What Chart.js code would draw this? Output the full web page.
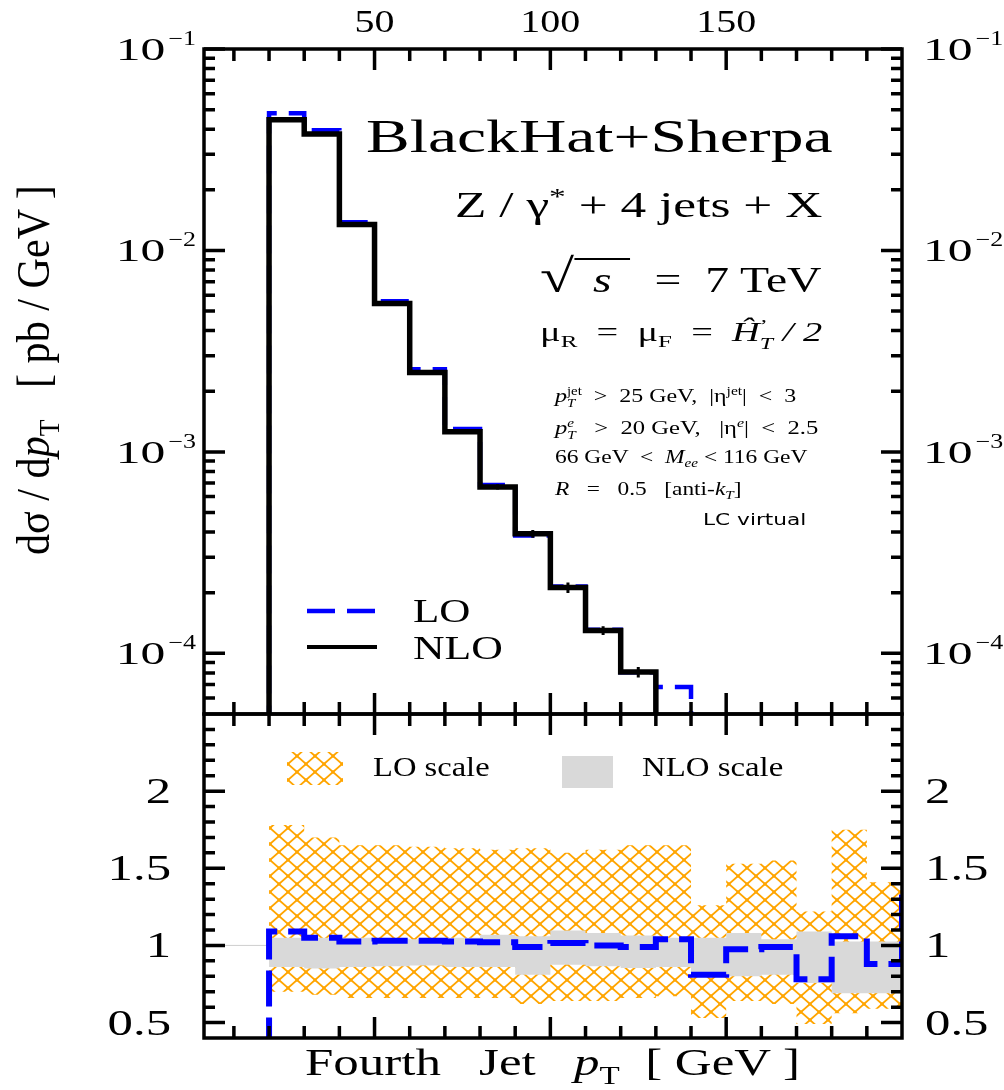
<!DOCTYPE html>
<html>
<head>
<meta charset="utf-8">
<title>Fourth jet pT - BlackHat+Sherpa</title>
<script src="https://cdn.jsdelivr.net/npm/chart.js@4.4.1/dist/chart.umd.min.js"></script>
<style>
  html, body { margin: 0; padding: 0; background: #fff; }
  #wrap { position: relative; width: 1004px; height: 1090px; overflow: hidden; }
  #wrap canvas { position: absolute; left: 0; }
  #topChart { top: 0; }
  #ratioChart { top: 700px; }
  .lbl { position: absolute; white-space: nowrap; line-height: 1; color: #000;
         font-family: "Liberation Serif", "Times New Roman", serif; transform-origin: 0 0; }
  .sp { position: relative; top: -0.55em; font-size: 0.65em; line-height: 0; }
  .sb { position: relative; top: 0.35em; font-size: 0.65em; line-height: 0; }
  .stk { display: inline-flex; flex-direction: column; font-size: 0.62em; line-height: 1.05;
         position: relative; top: -0.6em; vertical-align: baseline; }
</style>
</head>
<body>
<div id="wrap">
  <canvas id="topChart" width="1004" height="731"></canvas>
  <canvas id="ratioChart" width="1004" height="390"></canvas>
</div>
<script>
// bin edges in GeV (last edge only closes the final step)
const binEdges = [20, 30, 40, 50, 60, 70, 80, 90, 100, 110, 120, 130, 140, 150, 160, 170, 180, 190, 200, 210];

// upper panel: d sigma / d pT [pb/GeV], one value per bin from 20 GeV
const nloXsec = [0.0446, 0.0378, 0.01345, 0.00545, 0.00248, 0.00126, 0.00067, 0.000392, 0.000212, 0.000130, 0.0000807];
const nloRelErr = [0.008, 0.008, 0.01, 0.012, 0.015, 0.02, 0.03, 0.045, 0.06, 0.05, 0.06];
const loXsec = [0.048, 0.0395, 0.0138, 0.0056, 0.00257, 0.0013, 0.000685, 0.000385, 0.000215, 0.000131, 0.0000805, 0.000068];

// lower panel: ratios to NLO
const loRatio    = [1.09, 1.05, 1.026, 1.03, 1.03, 1.026, 1.02, 0.99, 1.015, 1.0, 0.99, 1.04, 0.81, 0.975, 0.99, 0.78, 1.06, 0.88, 1.38];
const loScaleHi  = [1.78, 1.70, 1.65, 1.65, 1.64, 1.63, 1.62, 1.63, 1.60, 1.62, 1.65, 1.65, 1.26, 1.53, 1.55, 1.22, 1.75, 1.41];
const loScaleLo  = [0.70, 0.68, 0.66, 0.66, 0.66, 0.66, 0.66, 0.62, 0.64, 0.64, 0.66, 0.67, 0.53, 0.64, 0.62, 0.49, 0.56, 0.59];
const nloScaleHi = [1.05, 1.05, 1.05, 1.043, 1.04, 1.05, 1.07, 1.06, 1.097, 1.08, 1.064, 1.05, 1.05, 1.08, 1.04, 1.09, 1.025, 1.025];
const nloScaleLo = [0.86, 0.85, 0.86, 0.865, 0.87, 0.86, 0.86, 0.81, 0.875, 0.865, 0.853, 0.86, 0.80, 0.80, 0.81, 0.757, 0.69, 0.69];

// tick labels
const xTickVals = [50, 100, 150];
const xTickText = ['50', '100', '150'];
const logTickVals = [1e-1, 1e-2, 1e-3, 1e-4];
const logTickExp = ['\u22121', '\u22122', '\u22123', '\u22124'];
const ratioTickVals = [2, 1.5, 1, 0.5];
const ratioTickText = ['2', '1.5', '1', '0.5'];

const SERIF = '"Liberation Serif", "Times New Roman", serif';
const BLUE = '#0000ff';

// minor ticks
const xMinor = [];
for (let v = 10; v < 200; v += 10) if (!xTickVals.includes(v)) xMinor.push(v);
const logMinor = [];
[1e-5, 1e-4, 1e-3, 1e-2].forEach(d => { for (let k = 2; k <= 9; k++) { const v = k * d; if (v > 5e-5 && v < 0.1) logMinor.push(v); } });
const ratioMinor = [];
for (let i = 5; i <= 24; i++) { const v = i / 10; if (i % 5 !== 0) ratioMinor.push(v); }

function histPoints(vals, floor) {
  const pts = [{ x: binEdges[0], y: floor }];
  vals.forEach((v, i) => pts.push({ x: binEdges[i], y: v }));
  pts.push({ x: binEdges[vals.length], y: floor });
  return pts;
}
function bandPoints(vals) {
  const pts = vals.map((v, i) => ({ x: binEdges[i], y: v }));
  pts.push({ x: binEdges[vals.length], y: vals[vals.length - 1] });
  return pts;
}
function errPoints() {
  const pts = [];
  nloXsec.forEach((v, i) => {
    const c = (binEdges[i] + binEdges[i + 1]) / 2;
    pts.push({ x: c, y: v * (1 - nloRelErr[i]) }, { x: c, y: v * (1 + nloRelErr[i]) }, { x: c, y: null });
  });
  return pts;
}

function drawFrame(ch, yMajor, yMinor) {
  const { ctx, chartArea: a } = ch;
  const xs = ch.scales.x, ys = ch.scales.y;
  ctx.save();
  ctx.strokeStyle = '#000';
  ctx.lineWidth = 3.5;
  ctx.lineCap = 'butt';
  ctx.beginPath();
  const yt = (v, len) => { const p = ys.getPixelForValue(v); ctx.moveTo(a.left, p); ctx.lineTo(a.left + len, p); ctx.moveTo(a.right, p); ctx.lineTo(a.right - len, p); };
  const xt = (v, len) => { const p = xs.getPixelForValue(v); ctx.moveTo(p, a.top); ctx.lineTo(p, a.top + len); ctx.moveTo(p, a.bottom); ctx.lineTo(p, a.bottom - len); };
  yMajor.forEach(v => yt(v, 21));
  yMinor.forEach(v => yt(v, 11));
  xTickVals.forEach(v => xt(v, 21));
  xMinor.forEach(v => xt(v, 12));
  ctx.stroke();
  ctx.strokeRect(a.left, a.top, a.width, a.height);
  ctx.restore();
}

function putText(ctx, txt, x, y, size, sx, align) {
  ctx.save();
  ctx.font = size + 'px ' + SERIF;
  const w = ctx.measureText(txt).width * sx;
  const x0 = align === 'right' ? x - w : (align === 'center' ? x - w / 2 : x);
  ctx.translate(x0, y);
  ctx.scale(sx, 1);
  ctx.fillStyle = '#000';
  ctx.textAlign = 'left';
  ctx.textBaseline = 'alphabetic';
  ctx.fillText(txt, 0, 0);
  ctx.restore();
  return w;
}
function measure(ctx, txt, size, sx) {
  ctx.save();
  ctx.font = size + 'px ' + SERIF;
  const w = ctx.measureText(txt).width * sx;
  ctx.restore();
  return w;
}
function putPower(ctx, exp, x, y, align) {
  const wb = measure(ctx, '10', 32, 1.55);
  const we = measure(ctx, exp, 20, 1.3);
  const x0 = align === 'right' ? x - (wb + 3 + we) : x;
  putText(ctx, '10', x0, y + 11, 32, 1.55, 'left');
  putText(ctx, exp, x0 + wb + 3, y - 4, 20, 1.3, 'left');
}

const topDeco = {
  id: 'topDeco',
  afterDatasetsDraw(ch) {
    drawFrame(ch, logTickVals, logMinor);
    const ctx = ch.ctx;
    const nlo = ch.data.datasets[1], lo = ch.data.datasets[2];
    ctx.save();
    ctx.lineCap = 'butt';
    ctx.strokeStyle = lo.borderColor;
    ctx.lineWidth = lo.borderWidth;
    ctx.setLineDash(lo.borderDash);
    ctx.beginPath(); ctx.moveTo(307, 611); ctx.lineTo(375, 611); ctx.stroke();
    ctx.setLineDash([]);
    ctx.strokeStyle = nlo.borderColor;
    ctx.lineWidth = 4;
    ctx.beginPath(); ctx.moveTo(307, 647); ctx.lineTo(377, 647); ctx.stroke();
    ctx.restore();
  },
  afterDraw(ch) {
    const ctx = ch.ctx, a = ch.chartArea;
    xTickVals.forEach((v, i) => putText(ctx, xTickText[i], ch.scales.x.getPixelForValue(v), 32, 32, 1.25, 'center'));
    logTickVals.forEach((v, i) => {
      const p = ch.scales.y.getPixelForValue(v);
      putPower(ctx, logTickExp[i], a.left - 8, p, 'right');
      putPower(ctx, logTickExp[i], a.right + 21, p, 'left');
    });
  }
};

const ratioCanvas = document.getElementById('ratioChart');
const ratioCtx = ratioCanvas.getContext('2d');
const tile = document.createElement('canvas');
tile.width = 18; tile.height = 16;
(function () {
  const g = tile.getContext('2d');
  g.strokeStyle = '#ffa500';
  g.lineWidth = 1.8;
  g.beginPath();
  g.moveTo(0, 0); g.lineTo(18, 16);
  g.moveTo(18, 0); g.lineTo(0, 16);
  g.stroke();
  g.fillStyle = '#ffa500';
  g.fillRect(7.5, 6.5, 3, 3);
  g.fillRect(0, 0, 1.5, 1.5); g.fillRect(16.5, 0, 1.5, 1.5);
  g.fillRect(0, 14.5, 1.5, 1.5); g.fillRect(16.5, 14.5, 1.5, 1.5);
})();
const hatch = ratioCtx.createPattern(tile, 'repeat');
const BAND_GRAY = '#d9d9d9';

const ratioDeco = {
  id: 'ratioDeco',
  afterDatasetsDraw(ch) {
    drawFrame(ch, ratioTickVals, ratioMinor);
    const ctx = ch.ctx;
    ctx.save();
    ctx.fillStyle = hatch;
    ctx.fillRect(287, 52, 56, 33);
    ctx.fillStyle = BAND_GRAY;
    ctx.fillRect(562, 56, 51, 32);
    ctx.restore();
  },
  afterDraw(ch) {
    const ctx = ch.ctx, a = ch.chartArea;
    ratioTickVals.forEach((v, i) => {
      const p = ch.scales.y.getPixelForValue(v);
      putText(ctx, ratioTickText[i], a.left - 33, p + 12, 35, 1.45, 'right');
      putText(ctx, ratioTickText[i], a.right + 23, p + 12, 35, 1.45, 'left');
    });
  }
};

const commonOpts = {
  responsive: false,
  animation: false,
  devicePixelRatio: 1,
  plugins: { legend: { display: false }, tooltip: { enabled: false } },
  elements: { point: { radius: 0 }, line: { tension: 0, borderJoinStyle: 'miter', borderCapStyle: 'butt' } }
};

new Chart(document.getElementById('topChart'), {
  type: 'line',
  data: {
    datasets: [
      { label: 'NLO error', data: errPoints(), borderColor: '#000', borderWidth: 3, spanGaps: false, order: -1 },
      { label: 'NLO', data: histPoints(nloXsec, 4e-5), stepped: true, borderColor: '#000', borderWidth: 5.5, order: 0 },
      { label: 'LO', data: histPoints(loXsec, 4e-5), stepped: true, borderColor: BLUE, borderWidth: 4.5, borderDash: [28, 12], order: 1 }
    ]
  },
  options: Object.assign({}, commonOpts, {
    layout: { padding: { left: 204, right: 102, top: 49, bottom: 17 } },
    scales: {
      x: { type: 'linear', min: 1.5, max: 200, display: false },
      y: { type: 'logarithmic', min: 5e-5, max: 0.1, display: false }
    }
  }),
  plugins: [topDeco]
});

new Chart(ratioCanvas, {
  type: 'line',
  data: {
    datasets: [
      { label: 'LO / NLO', data: histPoints(loRatio, 0.3), stepped: true, borderColor: BLUE, borderWidth: 6, borderDash: [36, 11], order: 0 },
      { label: 'NLO scale', data: bandPoints(nloScaleHi), stepped: true, borderWidth: 0, borderColor: 'rgba(0,0,0,0)', backgroundColor: BAND_GRAY, fill: '+1', order: 1 },
      { label: 'NLO scale low', data: bandPoints(nloScaleLo), stepped: true, borderWidth: 0, borderColor: 'rgba(0,0,0,0)', fill: false, order: 1 },
      { label: 'LO scale', data: bandPoints(loScaleHi), stepped: true, borderWidth: 0, borderColor: 'rgba(0,0,0,0)', backgroundColor: hatch, fill: '+1', order: 2 },
      { label: 'LO scale low', data: bandPoints(loScaleLo), stepped: true, borderWidth: 0, borderColor: 'rgba(0,0,0,0)', fill: false, order: 2 },
      { label: 'unity', data: [{ x: 1.5, y: 1 }, { x: 200, y: 1 }], borderColor: '#cfcfcf', borderWidth: 1, order: 3 }
    ]
  },
  options: Object.assign({}, commonOpts, {
    layout: { padding: { left: 204, right: 102, top: 14, bottom: 52 } },
    scales: {
      x: { type: 'linear', min: 1.5, max: 200, display: false },
      y: { type: 'linear', min: 0.4, max: 2.5, display: false }
    }
  }),
  plugins: [ratioDeco]
});

// text annotations (position = left x, baseline y, size, target width)
const notes = [
  { html: 'BlackHat+Sherpa', x: 366, base: 153, size: 46, w: 466 },
  { html: 'Z / \u03b3<span class="sp">*</span> + 4 jets + X', x: 455, base: 217, size: 36, w: 367 },
  { html: '<span style="font-size:1.3em;line-height:0">\u221a</span><span style="border-top:2px solid #000;padding:0 0.4em"><i>s</i></span> &nbsp;= &nbsp;7 TeV', x: 540, base: 292, size: 36, w: 282 },
  { html: '\u03bc<span class="sb">R</span> &nbsp;= &nbsp;\u03bc<span class="sb">F</span> &nbsp;= &nbsp;<i>\u0124</i><span class="stk"><span>\u2019</span><i>T</i></span> <i>/ 2</i>', x: 540, base: 342, size: 27, w: 282 },
  { html: '<i>p</i><span class="stk"><span>jet</span><i>T</i></span> &nbsp;&gt; &nbsp;25 GeV, &nbsp;|\u03b7<span class="sp">jet</span>| &nbsp;&lt; &nbsp;3', x: 555, base: 402, size: 19, w: 242 },
  { html: '<i>p</i><span class="stk"><i>e</i><i>T</i></span> &nbsp;&nbsp;&gt; &nbsp;20 GeV, &nbsp;&nbsp;|\u03b7<span class="sp"><i>e</i></span>| &nbsp;&lt; &nbsp;2.5', x: 555, base: 434, size: 19, w: 263 },
  { html: '66 GeV &nbsp;&lt; &nbsp;<i>M</i><span class="sb"><i>ee</i></span> &lt; 116 GeV', x: 555, base: 463, size: 19, w: 252 },
  { html: '<i>R</i> &nbsp;&nbsp;= &nbsp;&nbsp;0.5 &nbsp;&nbsp;[anti-<i>k</i><span class="sb"><i>T</i></span>]', x: 555, base: 495, size: 19, w: 187 },
  { html: 'LC virtual', x: 703, base: 526, size: 15, w: 104, font: '"DejaVu Sans", sans-serif' },
  { html: 'LO', x: 413, base: 623, size: 34, w: 57 },
  { html: 'NLO', x: 413, base: 660, size: 34, w: 90 },
  { html: 'LO scale', x: 373, base: 777, size: 27, w: 117 },
  { html: 'NLO scale', x: 642, base: 777, size: 27, w: 141 },
  { html: 'Fourth &nbsp; Jet &nbsp; <i>p</i><span class="sb">T</span> &nbsp;[ GeV ]', x: 305, base: 1075, size: 38, w: 495 },
  { html: 'd\u03c3 / d<i>p</i><span class="sb">T</span> &nbsp; [ pb / GeV ]', x: 555, base: 50, size: 46, w: 370, rot: true }
];

const wrap = document.getElementById('wrap');
notes.forEach(n => {
  const d = document.createElement('div');
  d.className = 'lbl';
  d.innerHTML = n.html;
  d.style.fontSize = n.size + 'px';
  if (n.font) d.style.fontFamily = n.font;
  wrap.appendChild(d);
  const sx = n.w / d.offsetWidth;
  if (n.rot) {
    d.style.left = (n.base - 0.84 * n.size) + 'px';
    d.style.top = n.x + 'px';
    d.style.transform = 'rotate(-90deg) scaleX(' + sx.toFixed(3) + ')';
  } else {
    d.style.left = n.x + 'px';
    d.style.top = (n.base - 0.84 * n.size) + 'px';
    d.style.transform = 'scaleX(' + sx.toFixed(3) + ')';
  }
});
</script>
</body>
</html>
